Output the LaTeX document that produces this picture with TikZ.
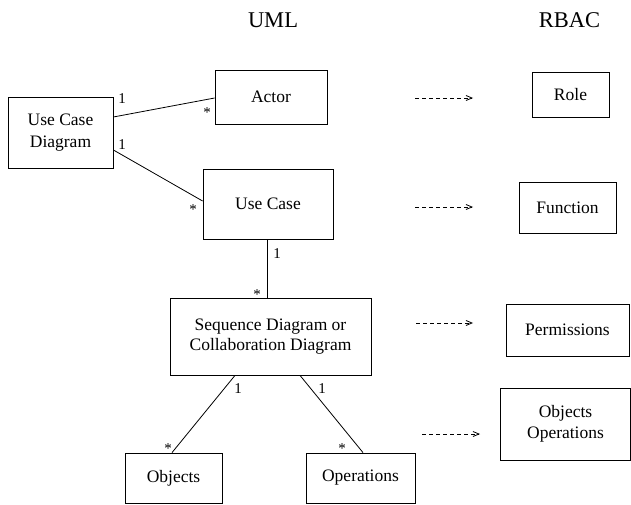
\documentclass[tikz,border=0pt]{standalone}
\usepackage{fontspec}
\setmainfont{Liberation Serif}
\usetikzlibrary{arrows.meta,calc}
\tikzset{
  box/.style={draw,line width=0.8pt,inner sep=0pt,align=center,font=\fontsize{17.5}{21.5}\selectfont},
  lbl/.style={inner sep=0pt,font=\fontsize{15}{17}\selectfont},
  title/.style={inner sep=0pt,font=\fontsize{22.5}{26}\selectfont},
  assoc/.style={line width=0.8pt},
  mapto/.style={line width=0.8pt,dash pattern=on 4pt off 3pt,-{Straight Barb[length=6pt,width=5pt]}}
}
\begin{document}
\begin{tikzpicture}[x=1pt,y=-1pt]
\useasboundingbox (0,0) rectangle (631,505);
% titles
\node[title] (tuml) at (273,20) {UML};
\node[title] (trbac) at (569.5,20) {RBAC};
% UML side
\node[box,minimum width=105,minimum height=71] (ucd) at (60.5,132.5) {Use Case\\Diagram};
\node[box,minimum width=112,minimum height=54] (actor) at (271,97) {Actor};
\node[box,minimum width=130,minimum height=70] (uc) at (268,204) {Use Case};
\node[box,minimum width=201,minimum height=77,font=\fontsize{17.5}{19.5}\selectfont] (seq) at (270.5,336.5) {Sequence Diagram or\\Collaboration Diagram};
\node[box,minimum width=97,minimum height=50] (obj) at (173.5,478) {Objects};
\node[box,minimum width=109,minimum height=50] (ops) at (360.5,478) {Operations};
% RBAC side
\node[box,minimum width=77,minimum height=45] (role) at (570.5,94.5) {Role};
\node[box,minimum width=97,minimum height=51] (func) at (567.5,207.5) {Function};
\node[box,minimum width=123,minimum height=52] (perm) at (567.5,330) {Permissions};
\node[box,minimum width=130,minimum height=72] (objops) at (565.5,424) {Objects\\Operations};
% associations
\draw[assoc] ([yshift=15.5pt]ucd.east) -- ([yshift=-1pt]actor.west);
\draw[assoc] ([yshift=-17.5pt]ucd.east) -- ([yshift=3pt]uc.west);
\draw[assoc] ([xshift=-1pt]uc.south) -- ([xshift=-1pt]uc.south |- seq.north);
\draw[assoc] ([xshift=-35.5pt]seq.south) -- ([xshift=-1.5pt]obj.north);
\draw[assoc] ([xshift=29.5pt]seq.south) -- ([xshift=2.5pt]ops.north);
% multiplicities
\node[lbl] (m1) at (122,99) {1};
\node[lbl] (m2) at (207,113) {*};
\node[lbl] (m3) at (122,145) {1};
\node[lbl] (m4) at (193,210) {*};
\node[lbl] (m5) at (277,254) {1};
\node[lbl] (m6) at (257,295) {*};
\node[lbl] (m7) at (238,389) {1};
\node[lbl] (m8) at (322,389) {1};
\node[lbl] (m9) at (168,449) {*};
\node[lbl] (m10) at (342,449) {*};
% mapping arrows
\coordinate (a1s) at (415,98);  \coordinate (a1e) at (473,98);
\coordinate (a2s) at (415,207); \coordinate (a2e) at (473,207);
\coordinate (a3s) at (416,323); \coordinate (a3e) at (473,323);
\coordinate (a4s) at (422,434); \coordinate (a4e) at (480,434);
\draw[mapto] (a1s) -- (a1e);
\draw[mapto] (a2s) -- (a2e);
\draw[mapto] (a3s) -- (a3e);
\draw[mapto] (a4s) -- (a4e);
\end{tikzpicture}
\end{document}
